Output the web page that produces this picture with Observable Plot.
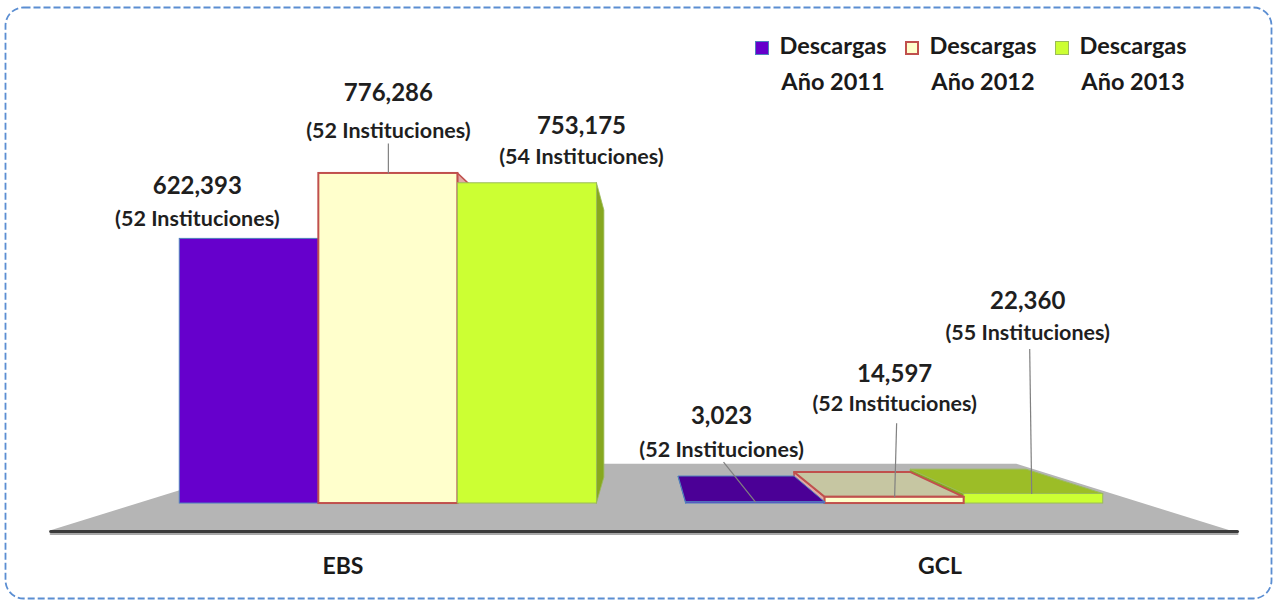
<!DOCTYPE html>
<html>
<head>
<meta charset="utf-8">
<script src="https://cdn.jsdelivr.net/npm/d3@7"></script>
<script src="https://cdn.jsdelivr.net/npm/@observablehq/plot@0.6"></script>
<style>
  html, body { margin: 0; padding: 0; background: #ffffff; }
  #wrap { position: relative; width: 1278px; height: 600px; overflow: hidden; font-family: Lato, "Open Sans", sans-serif; }
  #chart { position: absolute; left: 0; top: 0; }
  #frame { position: absolute; left: 0; top: 0; pointer-events: none; }
  .lg-item { position: absolute; top: 0; }
  .lg-swatch { position: absolute; width: 14px; height: 14px; box-sizing: border-box; top: 41px; }
  .lg-text { position: absolute; top: 27px; width: 118px; text-align: center; font-size: 23.5px; font-weight: 700; line-height: 36px; color: #1a1a1a; white-space: nowrap; }
</style>
</head>
<body>
<div id="wrap">
  <div id="chart"></div>
  <svg id="frame" width="1278" height="600"><rect x="5.5" y="7.5" width="1266" height="591" rx="18" ry="18" fill="none" stroke="#5b8ed2" stroke-width="1.8" stroke-dasharray="7 3"></rect></svg>
  <div id="legend"></div>
</div>
<script>
// ---------------- data ----------------
const categories = ["EBS", "GCL"];
const seriesNames = ["Descargas Año 2011", "Descargas Año 2012", "Descargas Año 2013"];
const legendLine1 = ["Descargas", "Descargas", "Descargas"];
const legendLine2 = ["Año 2011", "Año 2012", "Año 2013"];
const downloads2011 = [622393, 3023];
const downloads2012 = [776286, 14597];
const downloads2013 = [753175, 22360];
const institutions2011 = [52, 52];
const institutions2012 = [52, 52];
const institutions2013 = [54, 55];

// ---------------- styles / layout ----------------
const seriesStyle = [
  { front: "#6600cc", top: "#4b0096", side: "#4d009a", stroke: "#4f81bd", sw: 1 },
  { front: "#ffffcc", top: "#c6c6a2", side: "#e3aaa6", stroke: "#c0504d", sw: 2 },
  { front: "#ccff33", top: "#9cbd27", side: "#87a81f", stroke: "#9bbb59", sw: 1 }
];
// label offsets (px) relative to the front-top centre of each bar: [category][series]
const labelLayout = [
  [ { dx: -52, dv: -53, dn: -20, leader: null },
    { dx: 0, dv: -80, dn: -42, leader: [0, -30, 0, 0] },
    { dx: 54, dv: -57, dn: -26, leader: null } ],
  [ { dx: -34, dv: -86, dn: -52, leader: [-32, -40, 0, 0] },
    { dx: 0, dv: -123, dn: -93, leader: [2, -74, 0, 0] },
    { dx: -6, dv: -193, dn: -161, leader: [-4, -145, -2, 0] } ]
];
const legendLeft = [755, 905, 1055];

// perspective set-up (vanishing point, depth planes), in data units
const W = 1278, H = 600;
const X_DOMAIN = [-0.5737, 1.567];
const Y_DOMAIN = [-137614, 1059026];
const UX = (X_DOMAIN[1] - X_DOMAIN[0]) / W;   // data units per px
const UY = (Y_DOMAIN[1] - Y_DOMAIN[0]) / H;
const VX = 0.5, VY = 366970;
const F_FLOOR_FRONT = 1, F_BAR_FRONT = 0.848, F_BAR_BACK = 0.707, F_FLOOR_BACK = 0.635;
const BAR_W = 0.2747;
const FLOOR_X = [-0.493, 1.49];

const px = (X, f) => VX + (X - VX) * f;
const py = (Y, f) => VY + (Y - VY) * f;

const valuesBySeries = [downloads2011, downloads2012, downloads2013];
const instBySeries = [institutions2011, institutions2012, institutions2013];
const fmt = d3.format(",");

// bars
const bars = [];
categories.forEach((cat, c) => {
  seriesNames.forEach((name, s) => {
    const v = valuesBySeries[s][c];
    const xc = c + (s - 1) * BAR_W;
    bars.push({ cat, c, s, name, v, n: instBySeries[s][c], X0: xc - BAR_W / 2, X1: xc + BAR_W / 2, xc });
  });
});

const ff = F_BAR_FRONT, fb = F_BAR_BACK;
const marks = [];

// floor
marks.push(Plot.areaX([
  { y: py(0, F_FLOOR_FRONT), x1: px(FLOOR_X[0], F_FLOOR_FRONT), x2: px(FLOOR_X[1], F_FLOOR_FRONT) },
  { y: py(0, F_FLOOR_BACK), x1: px(FLOOR_X[0], F_FLOOR_BACK), x2: px(FLOOR_X[1], F_FLOOR_BACK) }
], { y: "y", x1: "x1", x2: "x2", fill: "#b5b5b5" }));

// bars in painter's order (farthest from vanishing point first)
const ordered = bars.slice().sort((a, b) => Math.abs(b.xc - VX) - Math.abs(a.xc - VX));
for (const b of ordered) {
  const st = seriesStyle[b.s];
  const edge = b.X1 < VX ? b.X1 : (b.X0 > VX ? b.X0 : null);
  if (edge !== null) {
    marks.push(Plot.areaY([
      { x: px(edge, ff), y1: py(0, ff), y2: py(b.v, ff) },
      { x: px(edge, fb), y1: py(0, fb), y2: py(b.v, fb) }
    ], { x: "x", y1: "y1", y2: "y2", fill: st.side, stroke: st.stroke, strokeWidth: st.sw * 0.8 }));
  }
  if (b.v < VY) {
    marks.push(Plot.areaX([
      { y: py(b.v, ff), x1: px(b.X0, ff), x2: px(b.X1, ff) },
      { y: py(b.v, fb), x1: px(b.X0, fb), x2: px(b.X1, fb) }
    ], { y: "y", x1: "x1", x2: "x2", fill: st.top, stroke: st.stroke, strokeWidth: st.sw }));
  }
  marks.push(Plot.rect([b], {
    x1: d => px(d.X0, ff), x2: d => px(d.X1, ff),
    y1: d => py(0, ff), y2: d => py(d.v, ff),
    fill: st.front, stroke: st.stroke, strokeWidth: st.sw
  }));
}

// floor front edge
const edgeLine = [
  { x: px(FLOOR_X[0], 1) + 2 * UX, y: py(0, 1) },
  { x: px(FLOOR_X[1], 1) + 5 * UX, y: py(0, 1) }
];
marks.push(Plot.line(edgeLine, { x: "x", y: "y", stroke: "#a8a8a8", strokeWidth: 2, dy: 2.5 }));
marks.push(Plot.line(edgeLine, { x: "x", y: "y", stroke: "#3a3a3a", strokeWidth: 3 }));

// data labels
const labels = bars.map(b => {
  const L = labelLayout[b.c][b.s];
  return { ...b, L, ax: px(b.xc, ff), ay: py(b.v, ff) };
});
marks.push(Plot.link(labels.filter(d => d.L.leader), {
  x1: d => d.ax + d.L.leader[0] * UX, y1: d => d.ay - d.L.leader[1] * UY,
  x2: d => d.ax + d.L.leader[2] * UX, y2: d => d.ay - d.L.leader[3] * UY,
  stroke: "#808080", strokeWidth: 1.2
}));
marks.push(Plot.text(labels, {
  x: d => d.ax + d.L.dx * UX, y: d => d.ay - d.L.dv * UY,
  text: d => fmt(d.v), fontSize: 24, fontWeight: "bold", fill: "#1f1f1f",
  fontFamily: "Lato", textAnchor: "middle"
}));
marks.push(Plot.text(labels, {
  x: d => d.ax + d.L.dx * UX, y: d => d.ay - d.L.dn * UY,
  text: d => `(${d.n} Instituciones)`, fontSize: 21.5, fontWeight: "bold", fill: "#1f1f1f",
  fontFamily: "Lato", textAnchor: "middle"
}));

// category labels
marks.push(Plot.text(categories, {
  x: (d, i) => px(i, F_FLOOR_FRONT), y: () => py(0, F_FLOOR_FRONT) - 35 * UY,
  text: d => d, fontSize: 23, fontWeight: "bold", fill: "#1a1a1a", fontFamily: "Lato", textAnchor: "middle"
}));

const chart = Plot.plot({
  width: W, height: H,
  margin: 0,
  x: { type: "linear", domain: X_DOMAIN, axis: null },
  y: { type: "linear", domain: Y_DOMAIN, axis: null },
  style: { background: "transparent", fontFamily: "Lato", overflow: "visible" },
  marks
});
document.getElementById("chart").appendChild(chart);

// legend
const legend = document.getElementById("legend");
seriesNames.forEach((name, s) => {
  const st = seriesStyle[s];
  const item = document.createElement("div");
  item.className = "lg-item";
  item.style.left = legendLeft[s] + "px";
  const sw = document.createElement("div");
  sw.className = "lg-swatch";
  sw.style.left = "0px";
  sw.style.background = st.front;
  sw.style.border = `${s === 1 ? 2 : 1.5}px solid ${st.stroke}`;
  const tx = document.createElement("div");
  tx.className = "lg-text";
  tx.style.left = "19px";
  tx.innerHTML = `${legendLine1[s]}<br>${legendLine2[s]}`;
  tx.title = name;
  item.appendChild(sw);
  item.appendChild(tx);
  legend.appendChild(item);
});
</script>
</body>
</html>
